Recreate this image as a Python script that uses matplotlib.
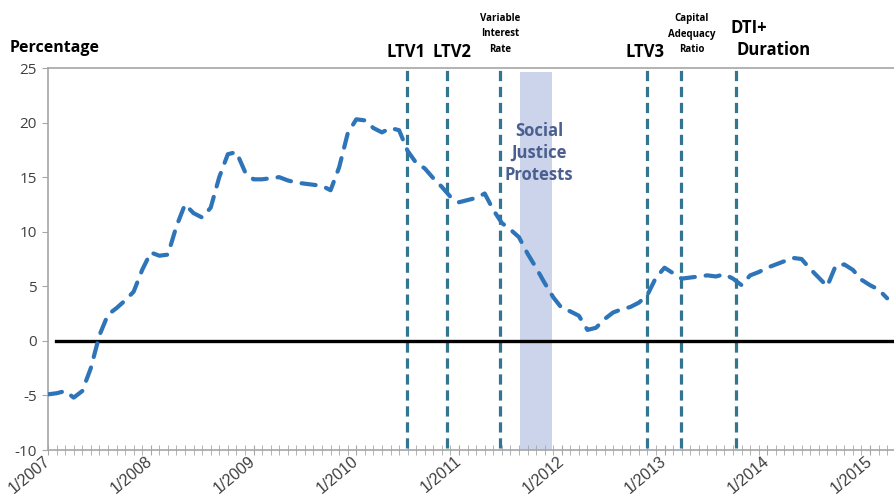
import matplotlib
matplotlib.use("Agg")
import matplotlib.pyplot as plt
from matplotlib.ticker import FixedLocator, MultipleLocator

plt.rcParams["axes.unicode_minus"] = False

# monthly growth, 1/2007 .. 3/2015 (month index 0 = 1/2007)
values = [-4.9, -4.8, -4.6, -5.2, -4.6, -2.5, 0.5, 2.4, 3.0, 3.7, 4.5, 6.5,
          8.1, 7.8, 7.9, 10.5, 12.5, 11.7, 11.3, 12.2, 15.0, 17.1, 17.3, 15.5,
          14.8, 14.8, 14.9, 15.0, 14.7, 14.5, 14.4, 14.3, 14.2, 13.8, 15.9, 19.0,
          20.3, 20.2, 19.5, 19.1, 19.5, 19.3, 17.4, 16.3, 15.8, 14.9, 14.1, 13.2,
          12.7, 12.9, 13.1, 13.5, 12.0, 10.8, 10.2, 9.5, 8.0, 6.7, 5.3, 4.0,
          3.0, 2.7, 2.3, 1.0, 1.2, 2.0, 2.6, 2.9, 3.1, 3.5, 4.2, 5.8,
          6.7, 6.2, 5.7, 5.8, 5.9, 6.0, 5.9, 6.1, 5.7, 5.1, 6.0, 6.3,
          6.7, 7.0, 7.3, 7.6, 7.5, 6.6, 5.8, 5.0, 6.9, 7.0, 6.5, 5.6,
          5.1, 4.7, 3.9]
months = list(range(len(values)))

year_ticks = [0, 12, 24, 36, 48, 60, 72, 84, 96]
year_labels = ["1/2007", "1/2008", "1/2009", "1/2010", "1/2011",
               "1/2012", "1/2013", "1/2014", "1/2015"]

# policy events (month index)
event_pos = [41.9, 46.6, 52.8, 70.0, 73.9, 80.4]
protest_span = (55.1, 58.9)

fig = plt.figure(figsize=(8.94, 4.96), dpi=100)
ax = fig.add_axes([48 / 894, 46 / 496, 846 / 894, 382 / 496])

ax.axvspan(protest_span[0], protest_span[1], ymin=0, ymax=0.99,
           color="#cbd4ea", lw=0, zorder=1)

for p in event_pos:
    ax.plot([p, p], [-9.8, 25], color="#327590", lw=2.3,
            dashes=(3.2, 1.8), zorder=2)

ax.plot([0.9, 98.6], [0, 0], color="black", lw=2.4, zorder=3)

ax.plot(months, values, color="#2e74b8", lw=3.0, dashes=(3.4, 2.6),
        dash_capstyle="round", zorder=4)

ax.set_xlim(0, 98.8)
ax.set_ylim(-10, 25)
ax.yaxis.set_major_locator(MultipleLocator(5))
ax.xaxis.set_major_locator(FixedLocator(year_ticks))
ax.xaxis.set_minor_locator(MultipleLocator(1))
ax.set_xticklabels(year_labels, rotation=40, ha="right", va="center",
                   rotation_mode="anchor", family="Liberation Sans",
                   fontsize=11.5, color="#404040")
ax.tick_params(axis="x", which="both", direction="inout", length=7,
               color="#a6a6a6", pad=3)
ax.tick_params(axis="y", direction="out", length=4, color="#a6a6a6",
               labelsize=11, labelcolor="#404040", pad=4)
for lab in ax.get_yticklabels():
    lab.set_family("Open Sans")

for s in ["left", "bottom", "top"]:
    ax.spines[s].set_color("#a6a6a6")
    ax.spines[s].set_linewidth(1.2)
ax.spines["right"].set_visible(False)

bold = dict(family="Open Sans", weight="bold", color="black")
fig.text(10 / 894, 1 - 48 / 496, "Percentage", fontsize=11.5, va="center", **bold)
fig.text(406 / 894, 1 - 52 / 496, "LTV1", fontsize=12, ha="center", va="center", **bold)
fig.text(452 / 894, 1 - 52 / 496, "LTV2", fontsize=12, ha="center", va="center", **bold)
fig.text(645 / 894, 1 - 52 / 496, "LTV3", fontsize=12, ha="center", va="center", **bold)
fig.text(500 / 894, 1 - 34 / 496, "Variable\nInterest\nRate", fontsize=7,
         ha="center", va="center", linespacing=1.6, **bold)
fig.text(692 / 894, 1 - 34 / 496, "Capital\nAdequacy\nRatio", fontsize=7,
         ha="center", va="center", linespacing=1.6, **bold)
fig.text(731 / 894, 1 - 28 / 496, "DTI+", fontsize=12, ha="left", va="center", **bold)
fig.text(737 / 894, 1 - 50 / 496, "Duration", fontsize=12, ha="left", va="center", **bold)
fig.text(539 / 894, 1 - 153 / 496, "Social\nJustice\nProtests", fontsize=12,
         ha="center", va="center", linespacing=1.3, family="Open Sans",
         weight="bold", color="#4a5f90")

fig.savefig("out.png", dpi=100)
